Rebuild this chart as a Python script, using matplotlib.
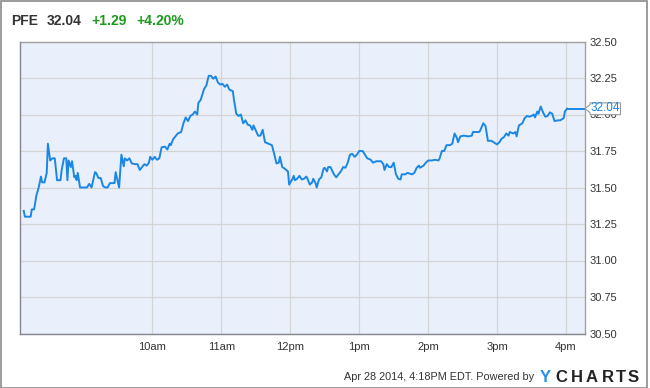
import matplotlib
matplotlib.use("Agg")
import matplotlib.pyplot as plt
import matplotlib.transforms as mtransforms
from matplotlib.patches import Polygon, Rectangle

plt.rcParams['font.family'] = ['Liberation Sans', 'DejaVu Sans']

# ---- data ----
ticker = "PFE"
last_price = 32.04
change = "+1.29"
change_pct = "+4.20%"
footer = "Apr 28 2014, 4:18PM EDT. Powered by"

# minutes since midnight
times = [488, 489, 494, 495, 497, 499, 501, 503, 504, 506, 508, 509, 511, 513, 515, 517, 520, 521, 523, 525,
         526, 527, 529, 530, 532, 533, 534, 535, 537, 543, 545, 547, 550, 551, 553, 555, 557, 559, 561, 563,
         567, 568, 569, 571, 573, 575, 576, 578, 580, 582, 585, 587, 589, 591, 593, 595, 597, 598, 600, 602,
         604, 606, 608, 611, 613, 615, 616, 618, 620, 622, 625, 627, 629, 631, 633, 635, 637, 639, 640, 642,
         645, 647, 649, 651, 653, 655, 657, 659, 661, 663, 665, 667, 670, 671, 673, 675, 677, 679, 681, 683,
         685, 687, 688, 690, 692, 694, 696, 698, 701, 704, 706, 708, 710, 711, 713, 715, 718, 719, 722, 723,
         724, 726, 728, 730, 732, 734, 735, 737, 739, 740, 742, 743, 745, 747, 749, 750, 752, 753, 755, 758,
         760, 762, 764, 766, 768, 770, 772, 774, 776, 778, 780, 783, 785, 787, 790, 792, 795, 799, 801, 802,
         804, 806, 808, 810, 812, 814, 816, 817, 820, 822, 826, 828, 830, 832, 833, 836, 838, 840, 843, 846,
         849, 850, 852, 854, 856, 859, 861, 863, 865, 866, 868, 871, 875, 878, 879, 884, 885, 888, 890, 892,
         895, 897, 900, 902, 904, 906, 908, 910, 911, 914, 916, 917, 919, 922, 924, 926, 928, 930, 932, 933,
         935, 936, 938, 940, 942, 944, 946, 948, 950, 953, 955, 958, 959, 961]
prices = [31.34, 31.30, 31.30, 31.35, 31.35, 31.445, 31.50, 31.575, 31.535, 31.535, 31.60, 31.80, 31.685, 31.70, 31.70, 31.55, 31.55, 31.62, 31.70, 31.70,
          31.55, 31.685, 31.64, 31.68, 31.57, 31.58, 31.55, 31.60, 31.50, 31.50, 31.525, 31.50, 31.605, 31.60, 31.565, 31.565, 31.51, 31.50, 31.50, 31.53,
          31.53, 31.605, 31.57, 31.50, 31.725, 31.645, 31.70, 31.685, 31.70, 31.665, 31.66, 31.66, 31.62, 31.64, 31.66, 31.65, 31.67, 31.71, 31.69, 31.71,
          31.69, 31.70, 31.775, 31.78, 31.76, 31.80, 31.79, 31.83, 31.85, 31.87, 31.88, 31.94, 31.98, 31.955, 31.99, 32.00, 32.02, 32.00, 32.08, 32.10,
          32.175, 32.20, 32.265, 32.265, 32.245, 32.26, 32.22, 32.205, 32.21, 32.19, 32.205, 32.17, 32.16, 32.10, 32.005, 31.99, 32.00, 31.94, 31.96, 31.93,
          31.925, 31.895, 31.925, 31.89, 31.855, 31.855, 31.895, 31.81, 31.80, 31.79, 31.73, 31.665, 31.67, 31.71, 31.64, 31.63, 31.61, 31.52, 31.56, 31.58,
          31.55, 31.56, 31.58, 31.555, 31.56, 31.575, 31.56, 31.52, 31.535, 31.56, 31.53, 31.50, 31.555, 31.57, 31.63, 31.635, 31.61, 31.64, 31.64, 31.59,
          31.57, 31.59, 31.61, 31.64, 31.635, 31.67, 31.725, 31.73, 31.71, 31.725, 31.75, 31.75, 31.725, 31.70, 31.69, 31.67, 31.68, 31.68, 31.66, 31.62,
          31.66, 31.64, 31.64, 31.67, 31.59, 31.56, 31.555, 31.59, 31.59, 31.60, 31.59, 31.60, 31.635, 31.65, 31.635, 31.65, 31.67, 31.685, 31.685, 31.69,
          31.685, 31.70, 31.75, 31.75, 31.79, 31.79, 31.80, 31.87, 31.84, 31.81, 31.85, 31.855, 31.85, 31.855, 31.88, 31.88, 31.885, 31.94, 31.92, 31.82,
          31.82, 31.81, 31.795, 31.81, 31.835, 31.845, 31.87, 31.855, 31.88, 31.87, 31.88, 31.85, 31.925, 31.94, 31.975, 31.99, 31.985, 31.99, 32.00, 31.98,
          32.02, 32.005, 32.055, 32.015, 31.985, 31.99, 32.015, 32.005, 31.955, 31.96, 31.96, 31.975, 32.02, 32.04]

tick_hours = [10, 11, 12, 13, 14, 15, 16]
tick_labels = ["10am", "11am", "12pm", "1pm", "2pm", "3pm", "4pm"]
y_ticks = [30.50, 30.75, 31.00, 31.25, 31.50, 31.75, 32.00, 32.25, 32.50]

# ---- style ----
W, H = 650, 388
line_color = "#1a87e6"
text_color = "#333333"
green = "#1c9b1c"

fig = plt.figure(figsize=(W / 100, H / 100), dpi=100)
fig.patch.set_facecolor("white")

ax = fig.add_axes([19.5 / W, 1 - 333.5 / H, (584.5 - 19.5) / W, (333.5 - 41.5) / H])
ax.set_facecolor("#eaf0fb")

ax.plot(times, prices, color=line_color, lw=1.4, solid_joinstyle="round", zorder=3)

xmin, xmax = 484.3, 976.1
ax.set_xlim(xmin, xmax)
ax.set_ylim(30.50, 32.50)
# flat extension of last price to the right edge
ax.plot([times[-1], xmax], [prices[-1], prices[-1]], color=line_color, lw=1.4, zorder=3, clip_on=False)

ax.set_xticks([h * 60 for h in tick_hours])
ax.set_xticklabels(tick_labels)
ax.set_yticks(y_ticks)
ax.set_yticklabels([f"{v:.2f}" for v in y_ticks])
ax.yaxis.tick_right()
ax.tick_params(axis="both", length=0, labelsize=8, colors=text_color)
ax.tick_params(axis="y", pad=3.5)
ax.tick_params(axis="x", pad=6)
ax.grid(True, color="#d4d4d4", lw=0.9)
ax.set_axisbelow(True)
for side in ["left", "bottom"]:
    ax.spines[side].set_color("#858590")
    ax.spines[side].set_linewidth(1.0)
for side in ["top", "right"]:
    ax.spines[side].set_color("#a0a0a0")
    ax.spines[side].set_linewidth(1.0)

# price flag on the right edge (offsets in inches from the last-price anchor)
anchor = mtransforms.ScaledTranslation(1.0, last_price,
                                       mtransforms.blended_transform_factory(ax.transAxes, ax.transData))
trans = fig.dpi_scale_trans + anchor
pts = [(0.005, 0.0), (0.055, 0.04), (0.055, 0.058), (0.36, 0.058),
       (0.36, -0.06), (0.055, -0.06), (0.055, -0.04)]
flag = Polygon(pts, closed=True, transform=trans, facecolor="white", edgecolor="#9a9a9a",
               lw=0.8, clip_on=False, zorder=10)
ax.add_patch(flag)
ax.text(0.207, 0.002, f"{last_price:.2f}", transform=trans, color=line_color, fontsize=8.5,
        ha="center", va="center", zorder=11, clip_on=False)

# header
hy = 1 - 21 / H
fig.text(11 / W, hy, ticker, fontsize=10, fontweight="bold", color=text_color, va="center")
fig.text(47 / W, hy, f"{last_price:.2f}", fontsize=10, fontweight="bold", color=text_color, va="center")
fig.text(91 / W, hy, change, fontsize=10, fontweight="bold", color=green, va="center")
fig.text(136 / W, hy, change_pct, fontsize=10, fontweight="bold", color=green, va="center")

# footer
fy = 1 - 377 / H
fig.text(534 / W, fy, footer, fontsize=7.8, color=text_color, ha="right", va="center")
logo = "YCHARTS"
logo_cx = [545.5, 561, 576.5, 591.5, 607.5, 621, 633.5]
for ch, lx in zip(logo, logo_cx):
    fig.text(lx / W, fy, ch, fontsize=12, fontweight="bold",
             color=("#2a8fe0" if ch == "Y" else "#222222"), ha="center", va="center")

# outer border
fig.patches.append(Rectangle((0.5 / W, 0.5 / H), (W - 3.5) / W, (H - 1.5) / H, transform=fig.transFigure,
                             fill=False, edgecolor="#8a8a8a", lw=1.2))

fig.savefig("out.png", dpi=100)
